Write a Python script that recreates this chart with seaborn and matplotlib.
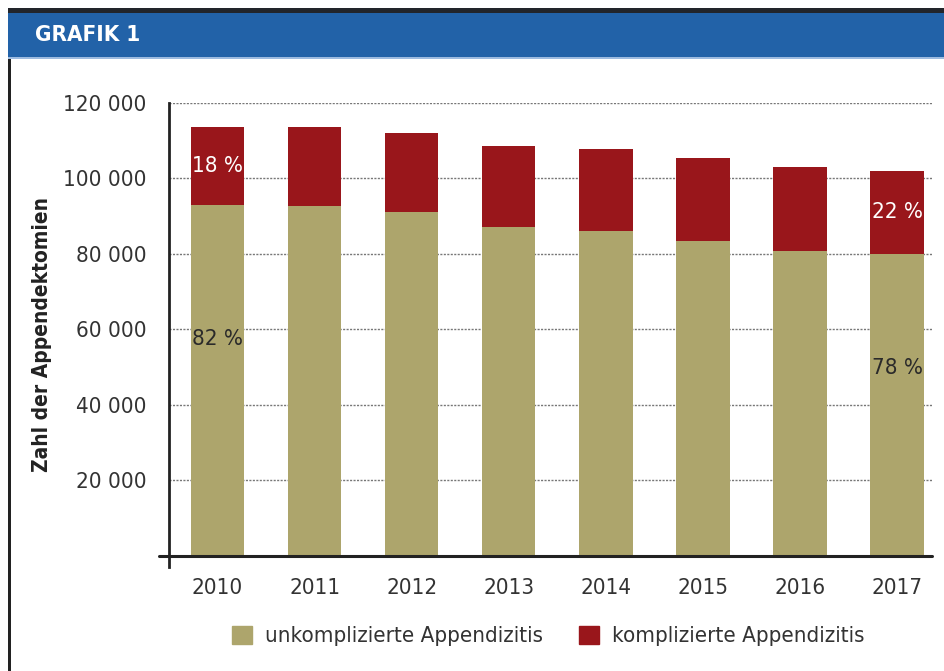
import pandas as pd
import matplotlib.pyplot as plt
import seaborn as sns
from matplotlib.patches import Rectangle, Patch

# Values
years = ["2010", "2011", "2012", "2013", "2014", "2015", "2016", "2017"]
uncomplicated = [93000, 92700, 91100, 87200, 86100, 83400, 80800, 80000]
complicated = [20600, 20900, 20900, 21400, 21700, 22000, 22200, 22000]
pct_labels = {0: ("82 %", "18 %"), 7: ("78 %", "22 %")}
ytick_vals = [20000, 40000, 60000, 80000, 100000, 120000]
ytick_labels = ["20 000", "40 000", "60 000", "80 000", "100 000", "120 000"]

df = pd.DataFrame({"Jahr": years, "unkompliziert": uncomplicated, "kompliziert": complicated})
df["gesamt"] = df["unkompliziert"] + df["kompliziert"]

khaki = "#ADA56C"
red = "#99161B"
blue = "#2262A8"

sns.set_style("white")
plt.rcParams["font.family"] = ["DejaVu Sans"]
plt.rcParams["font.stretch"] = "condensed"

fig = plt.figure(figsize=(9.44, 6.71), dpi=100)
W, H = 944, 671

# header band and frame
fig.add_artist(Rectangle((8 / W, 1 - 13 / H), 1, 5 / H, transform=fig.transFigure, color="#22252b", lw=0))
fig.add_artist(Rectangle((8 / W, 1 - 57 / H), 1, 44 / H, transform=fig.transFigure, color=blue, lw=0))
fig.add_artist(Rectangle((8 / W, 1 - 58.5 / H), 1, 1.5 / H, transform=fig.transFigure, color="#9dbbe0", lw=0))
fig.add_artist(Rectangle((8 / W, 0), 3 / W, 1 - 58.5 / H, transform=fig.transFigure, color="#222222", lw=0))
fig.text(35 / W, 1 - 35 / H, "GRAFIK 1", color="white", fontsize=16, fontweight="bold", va="center", ha="left")

ax = fig.add_axes([169 / W, 1 - 567 / H, (932 - 169) / W, (567 - 103) / H])

sns.barplot(data=df, x="Jahr", y="gesamt", color=red, width=0.55, saturation=1, linewidth=0, ax=ax)
sns.barplot(data=df, x="Jahr", y="unkompliziert", color=khaki, width=0.55, saturation=1, linewidth=0, ax=ax)

ax.set_ylim(-3000, 120000)
ax.set_xlim(-0.5, 7.36)
ax.set_yticks(ytick_vals)
ax.set_yticklabels(ytick_labels)
ax.tick_params(axis="y", length=10, width=2, color="#222222", labelsize=16, labelcolor="#333333", pad=6)
ax.tick_params(axis="x", length=0, labelsize=16, labelcolor="#333333", pad=8)
for v in ytick_vals:
    ax.axhline(v, color="#777777", lw=1.0, ls=(0, (1.5, 1)), zorder=0)
ax.axhline(0, xmin=-0.013, xmax=1, color="#222222", lw=2.2, clip_on=False, zorder=3)

for s in ["top", "right", "bottom"]:
    ax.spines[s].set_visible(False)
ax.spines["left"].set_linewidth(2)
ax.spines["left"].set_color("#222222")
ax.spines["left"].set_bounds(-3000, 120000)

ax.set_xlabel("")
ax.set_ylabel("Zahl der Appendektomien", fontsize=15, fontweight="bold", color="#222222", labelpad=8)

# percent labels: shares of complicated cases in the red segment, uncomplicated lower in the bar
for i, (low, high) in pct_labels.items():
    ax.text(i, df["unkompliziert"][i] + df["kompliziert"][i] / 2, high, color="white",
            fontsize=16, ha="center", va="center")
ax.text(0, 57500, pct_labels[0][0], color="#2a2a2a", fontsize=16, ha="center", va="center")
ax.text(7, 49800, pct_labels[7][0], color="#2a2a2a", fontsize=16, ha="center", va="center")

handles = [Patch(color=khaki, label="unkomplizierte Appendizitis"),
           Patch(color=red, label="komplizierte Appendizitis")]
fig.legend(handles=handles, loc="center", bbox_to_anchor=(548 / W, 1 - 636 / H), ncol=2,
           frameon=False, fontsize=16, handlelength=0.9, handleheight=0.9,
           handletextpad=0.6, columnspacing=1.6, labelcolor="#333333")

fig.savefig("out.png", dpi=100)
